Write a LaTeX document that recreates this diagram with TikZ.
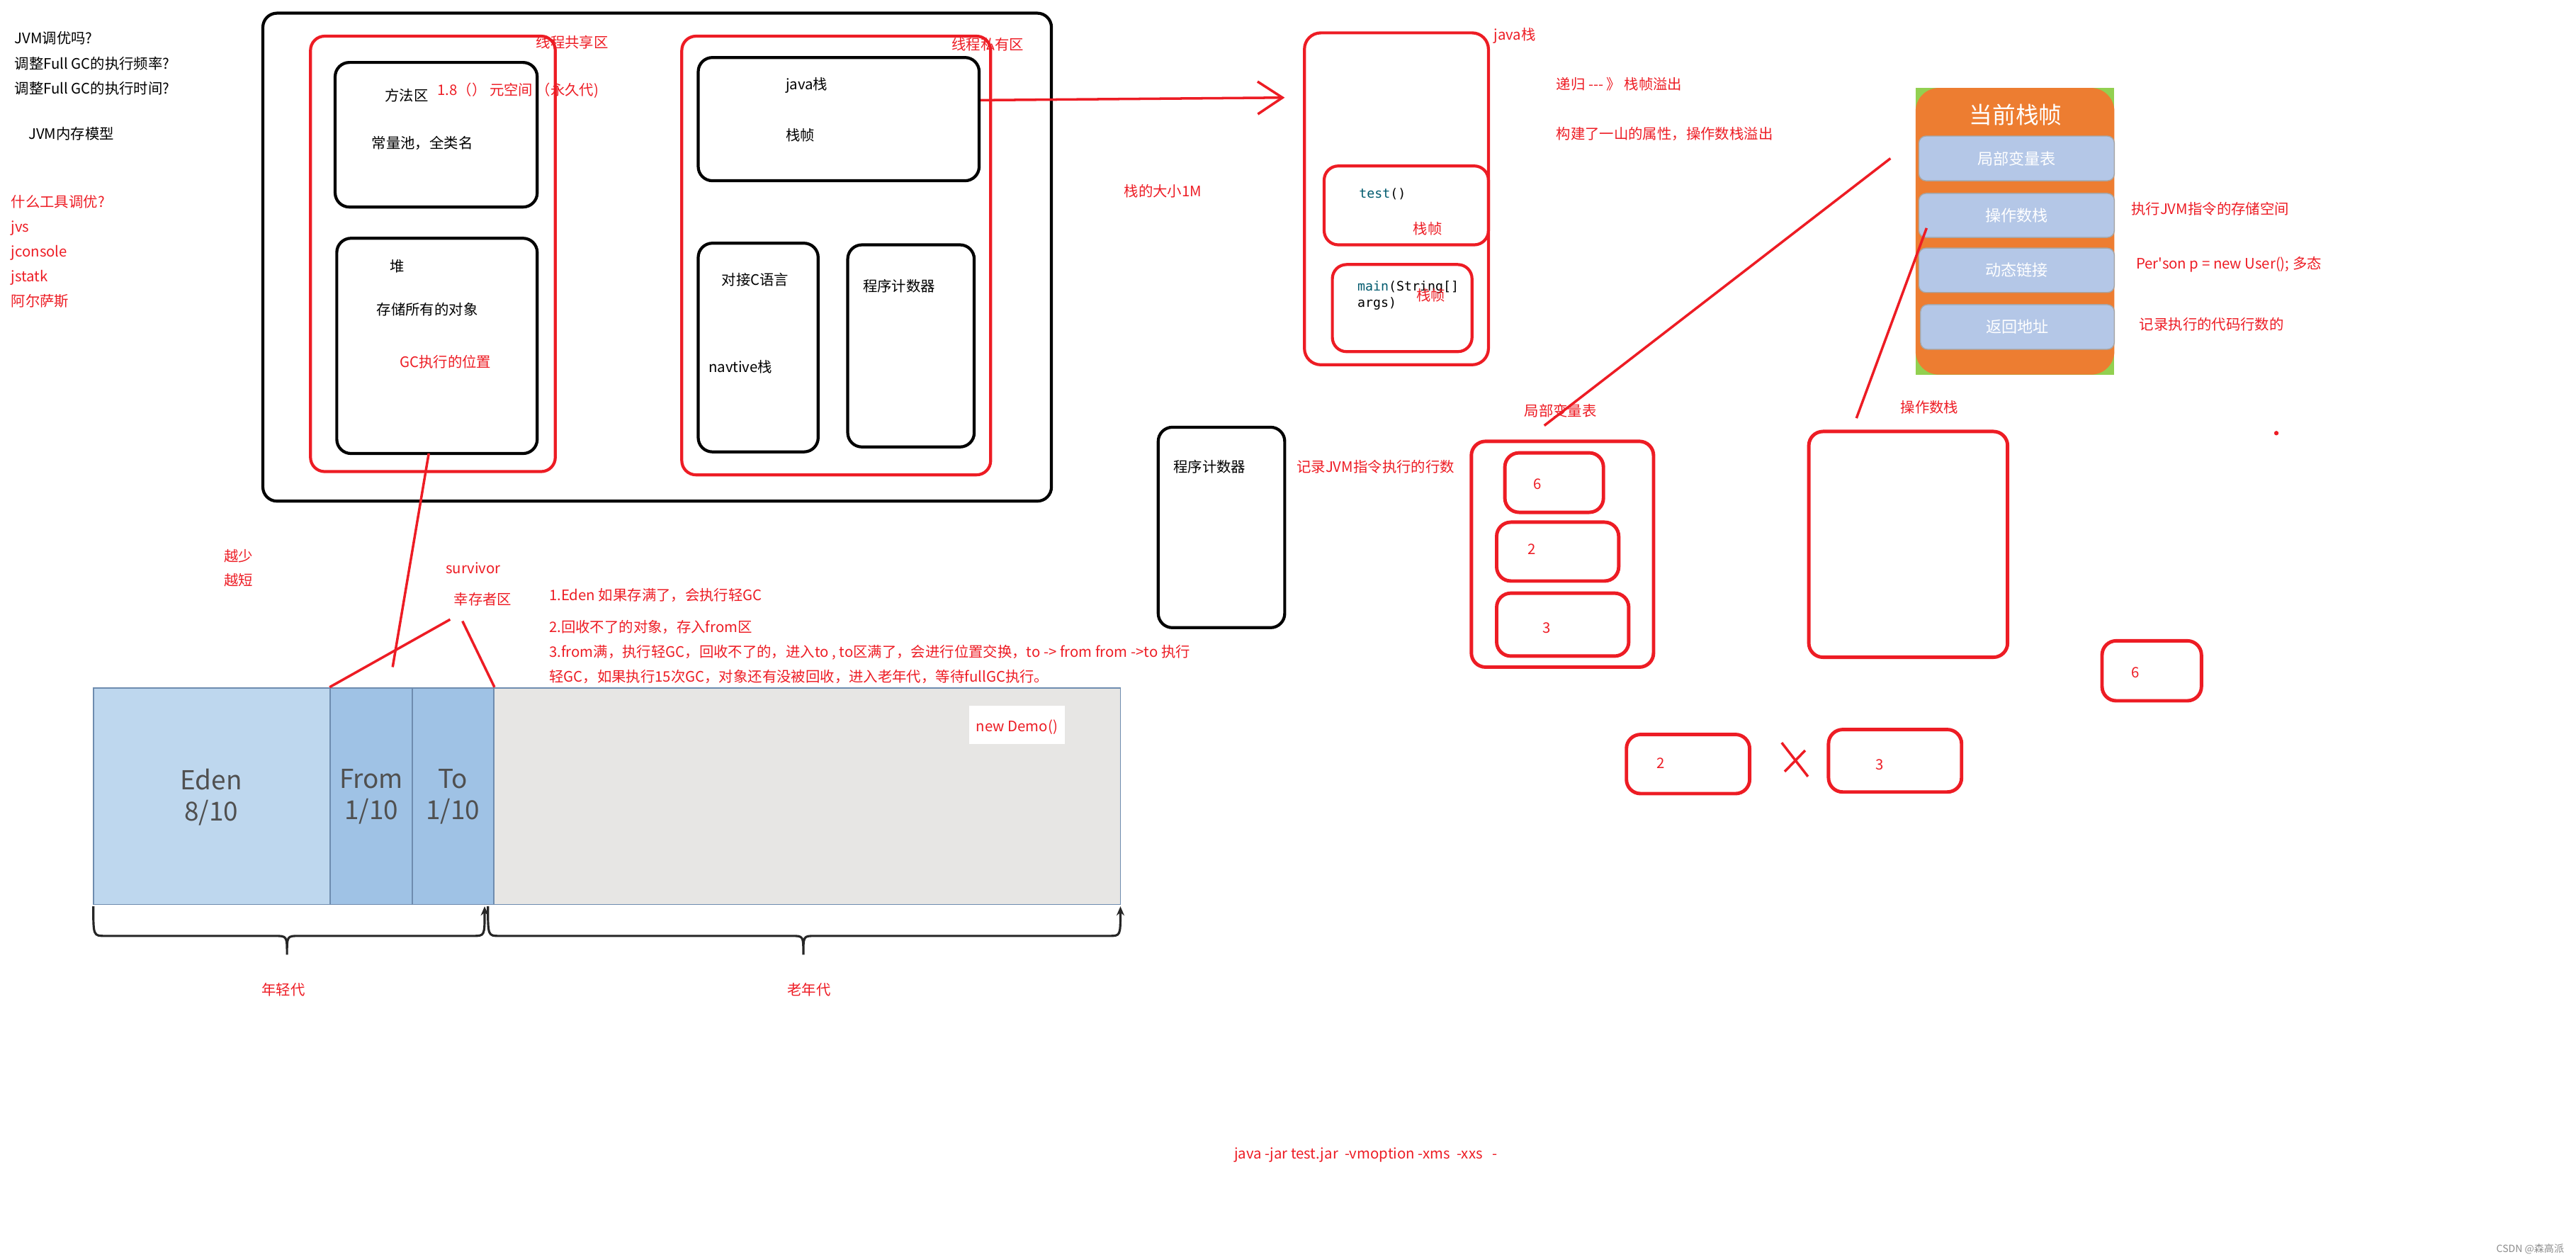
\documentclass[tikz,border=0pt]{standalone}
\usepackage{fontspec}
\setmainfont{Noto Sans CJK SC}
\newfontfamily\plaincjk{Noto Sans CJK SC}
\newfontfamily\codefont{DejaVu Sans Mono}
\usetikzlibrary{arrows.meta, positioning, calc, fit}

\definecolor{jred}{RGB}{237,28,36}
\definecolor{codeteal}{RGB}{0,90,110}
\definecolor{frameorange}{RGB}{237,125,49}
\definecolor{framegreen}{RGB}{146,208,80}
\definecolor{slotblue}{RGB}{180,199,231}
\definecolor{edenblue}{RGB}{190,215,238}
\definecolor{survblue}{RGB}{159,194,229}
\definecolor{oldgrey}{RGB}{231,230,228}
\definecolor{heapedge}{RGB}{110,140,175}
\definecolor{heaptext}{RGB}{80,80,80}

\begin{document}
\begin{tikzpicture}[
    x=0.023189cm, y=-0.023189cm,
    txt/.style={anchor=west, inner sep=0pt, text height=0.8em, text depth=0.2em, font=\fontsize{5.8}{7}\selectfont},
    redtxt/.style={txt, text=jred},
    codetxt/.style={anchor=west, inner sep=0pt, font=\codefont\fontsize{5.2}{6.2}\selectfont},
    blackbox/.style={draw=black, line width=1.2pt, rounded corners=2mm, inner sep=0pt},
    redbox/.style={draw=jred, line width=1.2pt, rounded corners=2mm, inner sep=0pt},
    slotbox/.style={redbox, line width=1.4pt},
    redline/.style={draw=jred, line width=1pt},
    slot/.style={fill=slotblue, draw=black!35, line width=0.4pt, rounded corners=1mm, inner sep=0pt},
    slottxt/.style={inner sep=0pt, text=white, font=\fontsize{6.3}{7.5}\selectfont},
    heapbox/.style={draw=heapedge, line width=0.5pt, inner sep=0pt},
    heaptxt/.style={inner sep=0pt, align=center, text=heaptext, font=\fontsize{10.5}{12.5}\selectfont},
    bracel/.style={draw=black!85, line width=0.9pt}
]
    \useasboundingbox (0,0) rectangle (1568,765);

    \node[txt] (q1) at (8.6,22) {JVM调优吗?};
    \node[txt] (q2) at (8.6,37.5) {调整Full GC的执行频率?};
    \node[txt] (q3) at (8.6,52.6) {调整Full GC的执行时间?};
    \node[txt] (model) at (17,80) {JVM内存模型};
    \node[redtxt] (tools) at (6.5,121.6) {什么工具调优?};
    \node[redtxt] (jvs) at (6.5,136.7) {jvs};
    \node[redtxt] (jconsole) at (6.5,151.8) {jconsole};
    \node[redtxt] (jstatk) at (6.5,166.9) {jstatk};
    \node[redtxt] (arthas) at (6.5,182) {阿尔萨斯};

    \node[blackbox, fit={(160,8) (640,305)}] (jvm) {};
    \node[redbox, fit={(189,22) (338,287)}] (shared) {};
    \node[redbox, fit={(415,22) (603,289)}] (private) {};
    \node[redtxt] (sharedlbl) at (326,24.7) {线程共享区};
    \node[redtxt] (privatelbl) at (579,26) {线程私有区};

    \node[blackbox, fit={(204,38) (327,126)}] (method) {};
    \node[txt] (methodlbl) at (234,57) {方法区};
    \node[redtxt] (metaspace) at (266,53.5) {1.8（）\ 元空间 （永久代)};
    \node[txt] (pool) at (226,86) {常量池，全类名};

    \node[blackbox, fit={(205,145) (327,276)}] (heap) {};
    \node[txt] (heaplbl) at (237,161) {堆};
    \node[txt] (objects) at (229,187) {存储所有的对象};
    \node[redtxt] (gcpos) at (243,219) {GC执行的位置};

    \node[blackbox, fit={(425,35) (596,110)}] (jstack) {};
    \node[txt] (jstacklbl) at (478,50) {java栈};
    \node[txt] (framelbl) at (478,81) {栈帧};

    \node[blackbox, fit={(425,148) (498,275)}] (native) {};
    \node[txt] (clang) at (439,169) {对接C语言};
    \node[txt] (nativelbl) at (431,222) {navtive栈};

    \node[blackbox, fit={(516,149) (593,272)}] (pc) {};
    \node[txt] (pclbl) at (525,173) {程序计数器};

    \node[redtxt] (stacksize) at (684,115) {栈的大小1M};

    \node[redbox, rounded corners=2.3mm, fit={(794,20) (906,222)}] (stackbig) {};
    \node[redtxt] (stackbiglbl) at (909,20) {java栈};
    \node[redbox, fit={(806,101) (906,149)}] (testframe) {};
    \node[codetxt] (testcode) at (827,118) {\textcolor{codeteal}{test}()};
    \node[redtxt] (testlbl) at (860,138) {栈帧};
    \node[redbox, fit={(811,161) (896,214)}] (mainframe) {};
    \node[codetxt] (maincode) at (826,175) {\textcolor{codeteal}{main}(String[]};
    \node[codetxt] (mainargs) at (826,185) {args)};
    \node[redtxt] (mainlbl) at (862,178.5) {栈帧};

    \coordinate (stacktip) at (782,59.4);
    \draw[redline, -{Straight Barb[length=3.5mm, width=4.6mm]}] ($(jstack.north east)!0.35!(jstack.south east)$) -- (stacktip);

    \node[redtxt] (recursion) at (947,50) {递归 {-}{-}{-} 》 栈帧溢出};
    \node[redtxt] (overflow) at (947,80) {构建了一山的属性，操作数栈溢出};

    \fill[framegreen] (1166,53.5) rectangle (1287,228);
    \node[fill=frameorange, rounded corners=3.3mm, inner sep=0pt, fit={(1166,53.5) (1287,228)}] (curframe) {};
    \node[text=white, inner sep=0pt, font=\fontsize{9.3}{11}\selectfont] (curtitle) at (1227,70) {当前栈帧};
    \node[slot, fit={(1168,82.8) (1287,110)}] (curlvt) {};
    \node[slot, fit={(1168,117.7) (1287,144.5)}] (curops) {};
    \node[slot, fit={(1168,151) (1287,178)}] (curlink) {};
    \node[slot, fit={(1169,185.4) (1287,212.6)}] (curret) {};
    \node[slottxt] (curlvttxt) at (curlvt.center) {局部变量表};
    \node[slottxt] (curopstxt) at (curops.center) {操作数栈};
    \node[slottxt] (curlinktxt) at (curlink.center) {动态链接};
    \node[slottxt] (currettxt) at (curret.center) {返回地址};

    \node[redtxt] (opsnote) at (1297,126) {执行JVM指令的存储空间};
    \node[redtxt] (linknote) at (1300,159) {\plaincjk Per'son p = new User(); 多态};
    \node[redtxt] (retnote) at (1302,196) {记录执行的代码行数的};

    \node[blackbox, fit={(705,260) (782,382)}] (pcbox) {};
    \node[txt] (pcboxlbl) at (714,283) {程序计数器};
    \node[redtxt] (pcnote) at (789,283) {记录JVM指令执行的行数};

    \node[redtxt] (lvtlbl) at (927.6,248.7) {局部变量表};
    \node[slotbox, fit={(895.6,268.6) (1006.5,406)}] (lvt) {};
    \node[slotbox, fit={(916,275.6) (976,311.8)}] (lvta) {};
    \node[slotbox, fit={(911,317.8) (985.3,353.6)}] (lvtb) {};
    \node[slotbox, fit={(911,361) (991.4,399.3)}] (lvtc) {};
    \node[redtxt, anchor=center] (vala) at (935.8,293.3) {6};
    \node[redtxt, anchor=center] (valb) at (932.3,333) {2};
    \node[redtxt, anchor=center] (valc) at (941.6,380.8) {3};

    \node[redtxt] (opslbl) at (1156.6,246.6) {操作数栈};
    \node[slotbox, fit={(1101,262.6) (1222,400)}] (ops) {};

    \coordinate (lvttail) at (940,259);
    \draw[redline] (lvttail) -- ($(curlvt.west)+(-17,0)$);
    \coordinate (opstail) at (1130,254.5);
    \draw[redline] (opstail) -- ($(curops.south west)+(5,-6)$);

    \node[slotbox, fit={(1279.5,390) (1340,426.5)}] (popa) {};
    \node[redtxt, anchor=center] (popaval) at (1300,408) {6};
    \node[slotbox, fit={(990,447) (1065,483)}] (popb) {};
    \node[redtxt, anchor=center] (popbval) at (1011,463) {2};
    \node[slotbox, fit={(1113,444) (1194,482)}] (popc) {};
    \node[redtxt, anchor=center] (popcval) at (1144,464) {3};
    \draw[redline] (1084.5,452) -- (1100.5,472.6);
    \draw[redline] (1098.8,456.7) -- (1086.3,469.6);
    \fill[jred] (1385.6,263.6) circle (0.9pt);

    \node[redtxt] (less) at (136,337) {越少};
    \node[redtxt] (shorter) at (136,352) {越短};
    \node[redtxt] (survivor) at (271,344.5) {survivor};
    \node[redtxt] (survlbl) at (276,363.5) {幸存者区};
    \node[redtxt] (step1) at (334,361) {1.Eden 如果存满了，会执行轻GC};
    \node[redtxt] (step2) at (334,380.5) {2.回收不了的对象，存入from区};
    \node[redtxt] (step3) at (334,395.5) {3.from满，执行轻GC，回收不了的，进入to , to区满了，会进行位置交换，to -> from from ->to 执行};
    \node[redtxt] (step4) at (334,410.7) {轻GC，如果执行15次GC，对象还有没被回收，进入老年代，等待fullGC执行。};

    \node[heapbox, fill=edenblue, fit={(56.8,418.6) (201,550.5)}] (eden) {};
    \node[heapbox, fill=survblue, fit={(201,418.6) (251,550.5)}] (from) {};
    \node[heapbox, fill=survblue, fit={(251,418.6) (300.6,550.5)}] (to) {};
    \node[heapbox, fill=oldgrey, fit={(300.6,418.6) (682,550.5)}] (old) {};
    \node[heaptxt] (edentxt) at (128.6,485) {Eden\\8/10};
    \node[heaptxt] (fromtxt) at (226,485) {From\\1/10};
    \node[heaptxt] (totxt) at (275.6,485) {To\\1/10};
    \node[fill=white, inner sep=0pt, fit={(590,429.5) (648,453)}] (demo) {};
    \node[redtxt, anchor=center] (demotxt) at (619,440.5) {new Demo()};

    \coordinate (heaptip) at (239,406);
    \draw[redline] ($(heap.south)+(-5,-1)$) -- (heaptip);
    \coordinate (survl) at (274,377);
    \coordinate (survr) at (281.5,378);
    \draw[redline] (from.north west) -- (survl);
    \draw[redline] (survr) -- (to.north east);

    \draw[bracel, -{Stealth[length=1.3mm, width=1.1mm]}] (56.8,551.6) .. controls (56.8,569.6) .. (64,569.6) -- (167,569.6) .. controls (174.7,569.6) .. (174.7,581) .. controls (174.7,569.6) .. (182,569.6) -- (288,569.6) .. controls (295,569.6) .. (295,551.6);
    \draw[bracel, -{Stealth[length=1.3mm, width=1.1mm]}] (297,551.6) .. controls (297,569.6) .. (304,569.6) -- (482,569.6) .. controls (489,569.6) .. (489,581) .. controls (489,569.6) .. (496,569.6) -- (675,569.6) .. controls (682,569.6) .. (682,551.6);
    \node[redtxt] (young) at (159,601) {年轻代};
    \node[redtxt] (tenured) at (479,601) {老年代};

    \node[redtxt] (cmd) at (751,700.8) {java -jar test.jar \ -vmoption -xms \ -xxs \ \ -};
    \node[txt, anchor=east, text=black!45, font=\fontsize{4}{5}\selectfont] (mark) at (1561,757.6) {CSDN @森高派};
\end{tikzpicture}
\end{document}
